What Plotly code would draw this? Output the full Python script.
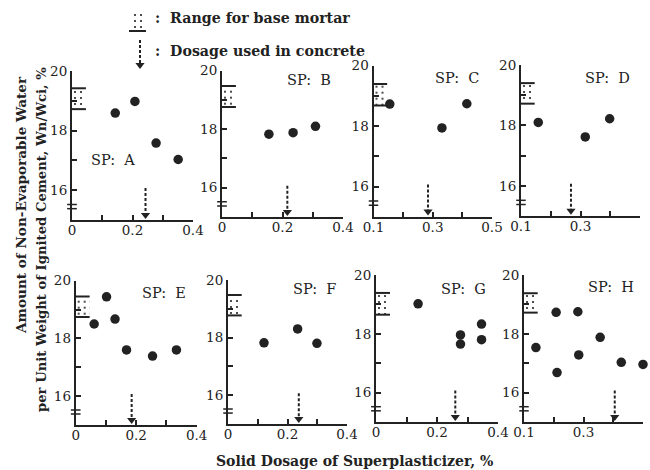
import plotly.graph_objects as go

# ---------------- data ----------------
sp_names = ["A", "B", "C", "D", "E", "F", "G", "H"]

A_x = [0.143, 0.208, 0.278, 0.351]
A_y = [18.59, 18.98, 17.58, 17.03]
B_x = [0.155, 0.235, 0.309]
B_y = [17.83, 17.88, 18.10]
C_x = [0.155, 0.331, 0.415]
C_y = [18.73, 17.94, 18.74]
D_x = [0.158, 0.316, 0.398]
D_y = [18.10, 17.62, 18.22]
E_x = [0.061, 0.102, 0.130, 0.168, 0.254, 0.333]
E_y = [18.50, 19.44, 18.67, 17.60, 17.39, 17.60]
F_x = [0.121, 0.234, 0.299]
F_y = [17.82, 18.30, 17.80]
G_x = [0.138, 0.277, 0.277, 0.346, 0.346]
G_y = [19.02, 17.96, 17.65, 18.33, 17.80]
H_x = [0.140, 0.208, 0.211, 0.281, 0.284, 0.356, 0.427, 0.500]
H_y = [17.53, 18.73, 16.68, 18.75, 17.28, 17.88, 17.03, 16.96]

series_x = [A_x, B_x, C_x, D_x, E_x, F_x, G_x, H_x]
series_y = [A_y, B_y, C_y, D_y, E_y, F_y, G_y, H_y]

dosage_used = [0.243, 0.216, 0.284, 0.268, 0.185, 0.238, 0.260, 0.405]
base_low = [18.72, 18.76, 18.68, 18.72, 18.74, 18.77, 18.65, 18.72]
base_high = [19.42, 19.48, 19.39, 19.40, 19.45, 19.48, 19.39, 19.38]

x_ranges = [[0, 0.4], [0, 0.4], [0.1, 0.5], [0.1, 0.5],
            [0, 0.4], [0, 0.4], [0, 0.4], [0.1, 0.5]]
y_range = [15.0, 20.0]
y_tickvals = [16, 17, 18, 19, 20]
y_ticktext = ["16", "", "18", "", "20"]
x_ticks_0 = [0, 0.1, 0.2, 0.3, 0.4]
x_text_0 = ["0", "", "0.2", "", "0.4"]
x_ticks_1 = [0.1, 0.2, 0.3, 0.4, 0.5]
x_text_1 = ["0.1", "", "0.3", "", "0.5"]

# label positions (data coords of each panel)
label_pos = [(0.137, 17.03), (0.288, 19.69), (0.382, 19.59), (0.39, 19.56),
             (0.292, 19.59), (0.292, 19.68), (0.288, 19.52), (0.393, 19.60)]

# ---------------- layout geometry (pixels) ----------------
W, H = 650, 470
geom = [  # x_left, x_right, y_top(20), y_bottom(15)
    (72, 193, 71, 220),
    (222, 343, 70.7, 217),
    (373.5, 492, 65.7, 216.7),
    (521, 640, 65, 216),
    (75.7, 196.7, 280.7, 425),
    (228, 347, 280, 424),
    (376, 498, 275, 422),
    (524, 643, 275, 422),
]

INK = "#222222"
SERIF = "DejaVu Serif"
PATTERN = dict(shape=".", fgcolor="#222", fgopacity=1, bgcolor="white", size=6, solidity=0.1)

fig = go.Figure()
shapes = []
annotations = []

for i in range(8):
    k = "" if i == 0 else str(i + 1)
    xa, ya = "x" + k, "y" + k
    x0, x1, yt, yb = geom[i]
    xr = x_ranges[i]
    span = xr[1] - xr[0]
    fig.update_layout(**{
        "xaxis" + k: dict(
            domain=[x0 / W, x1 / W], range=xr, anchor=ya, automargin=False,
            showline=True, linewidth=2, linecolor=INK, showgrid=False, zeroline=False,
            ticks="inside", ticklen=5, tickwidth=2, tickcolor=INK,
            tickvals=x_ticks_0 if xr[0] == 0 else x_ticks_1,
            ticktext=x_text_0 if xr[0] == 0 else x_text_1,
            ticklabelstandoff=-3,
            tickfont=dict(family=SERIF, size=13.5, color=INK),
        ),
        "yaxis" + k: dict(
            domain=[1 - yb / H, 1 - yt / H], range=y_range, anchor=xa, automargin=False,
            showline=True, linewidth=2, linecolor=INK, showgrid=False, zeroline=False,
            ticks="inside", ticklen=5, tickwidth=2, tickcolor=INK,
            tickvals=y_tickvals, ticktext=y_ticktext,
            tickfont=dict(family=SERIF, size=13.5, color=INK),
        ),
    })

    # base mortar range (dotted box)
    bx1 = xr[0] + 0.115 * span
    fig.add_trace(go.Scatter(
        x=[xr[0], bx1, bx1, xr[0], xr[0]],
        y=[base_low[i], base_low[i], base_high[i], base_high[i], base_low[i]],
        xaxis=xa, yaxis=ya, mode="lines", line=dict(width=0), fill="toself",
        fillcolor="white", fillpattern=PATTERN,
        hoverinfo="skip", showlegend=False))
    for yv in (base_low[i], base_high[i]):
        shapes.append(dict(type="line", xref=xa + " domain", yref=ya,
                           x0=0, x1=0.115, y0=yv, y1=yv,
                           line=dict(color=INK, width=2)))

    # axis break marks
    for yv in (15.38, 15.52):
        shapes.append(dict(type="line", xref=xa + " domain", yref=ya,
                           x0=-0.04, x1=0.04, y0=yv, y1=yv,
                           line=dict(color=INK, width=1.5)))

    # dosage used arrow
    fig.add_trace(go.Scatter(
        x=[dosage_used[i], dosage_used[i]], y=[16.07, 15.2],
        xaxis=xa, yaxis=ya, mode="lines",
        line=dict(color=INK, width=2, dash="3px,2px"),
        hoverinfo="skip", showlegend=False))
    fig.add_trace(go.Scatter(
        x=[dosage_used[i]], y=[15.17], xaxis=xa, yaxis=ya, mode="markers",
        marker=dict(symbol="triangle-down", size=8, color=INK),
        cliponaxis=False, hoverinfo="skip", showlegend=False))

    # data points
    fig.add_trace(go.Scatter(
        x=series_x[i], y=series_y[i], xaxis=xa, yaxis=ya, mode="markers",
        marker=dict(size=9.5, color=INK), cliponaxis=False, showlegend=False))

    annotations.append(dict(
        xref=xa, yref=ya, x=label_pos[i][0], y=label_pos[i][1],
        text="SP:  " + sp_names[i], showarrow=False,
        font=dict(family=SERIF, size=14.5, color=INK)))

# ---------------- overlay axis for the key (pixel coordinates) ----------------
fig.update_layout(
    xaxis9=dict(domain=[0, 1], range=[0, W], visible=False, anchor="y9", automargin=False),
    yaxis9=dict(domain=[0, 1], range=[H, 0], visible=False, anchor="x9", automargin=False),
)
fig.add_trace(go.Scatter(
    x=[130, 145, 145, 130, 130], y=[13, 13, 28, 28, 13], xaxis="x9", yaxis="y9",
    mode="lines", line=dict(width=0), fill="toself", fillcolor="white",
    fillpattern=PATTERN, hoverinfo="skip", showlegend=False))
fig.add_trace(go.Scatter(
    x=[129, 146], y=[31, 31], xaxis="x9", yaxis="y9", mode="lines",
    line=dict(color=INK, width=2), hoverinfo="skip", showlegend=False))
fig.add_trace(go.Scatter(
    x=[140, 140], y=[40, 63], xaxis="x9", yaxis="y9", mode="lines",
    line=dict(color=INK, width=2, dash="3px,2px"), hoverinfo="skip", showlegend=False))
fig.add_trace(go.Scatter(
    x=[140], y=[65], xaxis="x9", yaxis="y9", mode="markers",
    marker=dict(symbol="triangle-down", size=8, color=INK),
    hoverinfo="skip", showlegend=False))

KEY_FONT = dict(family=SERIF, size=14.2, color=INK)
TITLE_FONT = dict(family=SERIF, size=13.2, color=INK)
annotations += [
    dict(xref="paper", yref="paper", x=153 / W, y=1 - 18 / H, xanchor="left", yanchor="middle",
         text="<b>:  Range for base mortar</b>", showarrow=False, font=KEY_FONT),
    dict(xref="paper", yref="paper", x=153 / W, y=1 - 51 / H, xanchor="left", yanchor="middle",
         text="<b>:  Dosage used in concrete</b>", showarrow=False, font=KEY_FONT),
    dict(xref="paper", yref="paper", x=355 / W, y=1 - 461 / H, xanchor="center", yanchor="middle",
         text="<b>Solid Dosage of Superplasticizer, %</b>", showarrow=False,
         font=dict(family=SERIF, size=14, color=INK)),
    dict(xref="paper", yref="paper", x=21 / W, y=1 - 205 / H, xanchor="center", yanchor="middle",
         textangle=-90, text="<b>Amount of Non-Evaporable Water</b>", showarrow=False,
         font=dict(family=SERIF, size=13.6, color=INK)),
    dict(xref="paper", yref="paper", x=42 / W, y=1 - 240 / H, xanchor="center", yanchor="middle",
         textangle=-90, text="<b>per Unit Weight of Ignited Cement, Wn/Wci, %</b>",
         showarrow=False, font=TITLE_FONT),
]

fig.update_layout(
    width=W, height=H, margin=dict(l=0, r=0, t=0, b=0, autoexpand=False),
    paper_bgcolor="white", plot_bgcolor="rgba(0,0,0,0)",
    shapes=shapes, annotations=annotations, showlegend=False,
)

fig.write_html("out.html", config={"displayModeBar": False},
               post_script="document.body.style.margin='0';")
